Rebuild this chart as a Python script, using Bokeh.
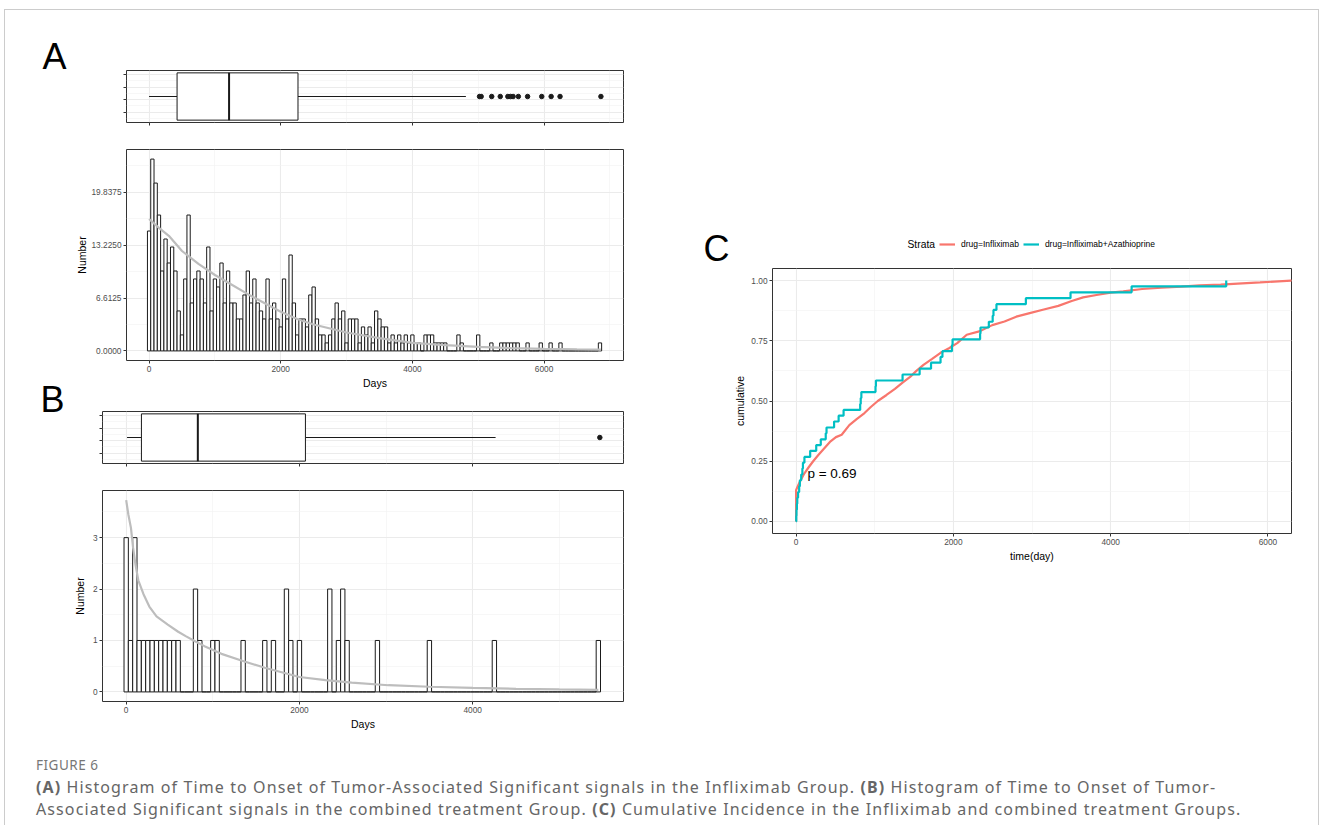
from bokeh.plotting import figure
from bokeh.models import (Range1d, FixedTicker, NumeralTickFormatter, Label, Legend,
                          LegendItem, Div, Spacer)
from bokeh.layouts import column, row
from bokeh.embed import file_html
from bokeh.resources import INLINE
from bokeh.core.properties import value

FONT = "Liberation Sans"

# ---------------- data ----------------
# Panel A (Infliximab group): histogram counts, 50-day bins centred at 0, 50, 100, ...
A_BIN_WIDTH = 50
A_COUNTS = [15, 24, 21, 17, 10, 14, 11, 13, 10, 5,
            2, 9, 17, 6, 9, 10, 9, 6, 13, 5,
            9, 8, 11, 6, 10, 6, 6, 4, 4, 7,
            10, 6, 9, 6, 5, 4, 9, 4, 6, 4,
            3, 9, 4, 12, 6, 2, 4, 4, 3, 7,
            8, 4, 2, 2, 1, 2, 4, 6, 4, 5,
            1, 4, 4, 4, 1, 3, 2, 3, 1, 5,
            4, 3, 3, 1, 2, 1, 2, 1, 2, 1,
            2, 1, 1, 0, 2, 2, 2, 1, 1, 1,
            1, 0, 0, 0, 2, 1, 0, 0, 0, 0,
            2, 0, 0, 0, 1, 0, 0, 1, 1, 1,
            1, 1, 1, 0, 0, 1, 0, 0, 0, 1,
            0, 0, 1, 0, 0, 1, 0, 0, 0, 0,
            0, 0, 0, 0, 0, 0, 0, 1]
A_BOX_STATS = [0, 425, 1215, 2262, 4813]          # lower whisker, Q1, median, Q3, upper whisker
A_OUTLIERS = [5020, 5045, 5205, 5335, 5450, 5490, 5530, 5610, 5750, 5965, 6108, 6243, 6864]
A_CURVE_DAYS = [0, 150, 300, 500, 750, 1000, 1250, 1500, 1750, 2000, 2250, 2500, 2750,
                3000, 3500, 4000, 4500, 5000, 5500, 6000, 6500, 6864]
A_CURVE_VALUES = [16.5, 15.4, 14.4, 12.5, 10.9, 9.5, 8.3, 7.1, 6.0, 4.9, 4.0, 3.3, 2.8,
                  2.3, 1.6, 1.0, 0.72, 0.5, 0.35, 0.25, 0.18, 0.15]
A_X_TICKS = [0, 2000, 4000, 6000]
A_X_MINOR = [1000, 3000, 5000, 7000]
A_Y_TICKS = [0, 6.6125, 13.225, 19.8375]
A_Y_MINOR = [3.30625, 9.91875, 16.53125, 23.14375]

# Panel B (combined treatment group): non-empty 50-day bins
B_BIN_WIDTH = 50
B_BIN_CENTERS = [0, 50, 100, 150, 200, 250, 300, 350, 400, 450, 500, 550, 600, 800, 850,
                 1000, 1050, 1350, 1600, 1700, 1850, 1900, 2000, 2350, 2450, 2500, 2550,
                 2900, 3500, 4250, 5450]
B_COUNTS = [3, 1, 3, 1, 1, 1, 1, 1, 1, 1, 1, 1, 1, 2, 1,
            1, 1, 1, 1, 1, 2, 1, 1, 2, 1, 2, 1,
            1, 1, 1, 1]
B_BOX_STATS = [10, 176, 827, 2069, 4264]
B_OUTLIERS = [5467]
B_CURVE_DAYS = [0, 25, 55, 80, 106, 140, 200, 267, 350, 480, 600, 692, 800, 904, 1100,
                1329, 1600, 2000, 2300, 2603, 3027, 3500, 4000, 4500, 5000, 5450]
B_CURVE_VALUES = [3.73, 3.45, 3.19, 2.8, 2.49, 2.17, 1.9, 1.66, 1.47, 1.31, 1.17, 1.08, 0.98,
                  0.89, 0.74, 0.61, 0.47, 0.29, 0.23, 0.18, 0.13, 0.1, 0.077, 0.06, 0.048, 0.04]
B_X_TICKS = [0, 2000, 4000]
B_X_MINOR = [1000, 3000, 5000]
B_Y_TICKS = [0, 1, 2, 3]
B_Y_MINOR = [0.5, 1.5, 2.5, 3.5]

BOX_Y_TICKS = [-0.25, -0.05, 0.15, 0.35]
BOX_Y_MINOR = [-0.35, -0.15, 0.05, 0.25]

# Panel C: cumulative incidence
INF_DAYS = [0, 0, 20, 48, 106, 160, 217, 280, 348, 430, 507, 580, 677, 770, 870, 950, 1039,
            1150, 1257, 1350, 1450, 1530, 1620, 1730, 1837, 1950, 2049, 2170, 2340, 2495,
            2650, 2800, 2971, 3150, 3335, 3505, 3650, 3820, 4000, 4160, 4400, 4646, 4900,
            5131, 5400, 5617, 5900, 6296, 6864]
INF_CUM = [0, 0.13, 0.145, 0.165, 0.20, 0.225, 0.25, 0.275, 0.30, 0.33, 0.35, 0.36, 0.40,
           0.425, 0.45, 0.475, 0.50, 0.525, 0.55, 0.575, 0.60, 0.625, 0.65, 0.675, 0.70,
           0.72, 0.74, 0.775, 0.79, 0.815, 0.83, 0.85, 0.865, 0.88, 0.895, 0.915, 0.93,
           0.94, 0.95, 0.955, 0.965, 0.97, 0.975, 0.98, 0.983, 0.987, 0.992, 1.0, 1.0]
AZA_DAYS = [0, 2, 5, 10, 15, 25, 39, 48, 65, 80, 87, 106, 179, 256, 314, 377, 387, 483, 541,
            604, 815, 822, 830, 1010, 1015, 1354, 1571, 1716, 1837, 1861, 1982, 1990, 2340,
            2345, 2451, 2500, 2510, 2548, 2922, 3490, 4267, 5470]
AZA_CUM = [0, 0.024, 0.049, 0.073, 0.098, 0.122, 0.146, 0.171, 0.195, 0.220, 0.244, 0.268,
           0.293, 0.317, 0.341, 0.366, 0.390, 0.415, 0.439, 0.463, 0.488, 0.512, 0.537,
           0.561, 0.585, 0.610, 0.634, 0.659, 0.683, 0.707, 0.732, 0.756, 0.780, 0.805,
           0.829, 0.854, 0.878, 0.902, 0.927, 0.951, 0.976, 1.0]
C_X_TICKS = [0, 2000, 4000, 6000]
C_X_MINOR = [1000, 3000, 5000]
C_Y_TICKS = [0, 0.25, 0.5, 0.75, 1.0]
C_Y_MINOR = [0.125, 0.375, 0.625, 0.875]
P_VALUE_TEXT = "p = 0.69"
STRATA_TITLE = "Strata"
STRATA = ["drug=Infliximab", "drug=Infliximab+Azathioprine"]
STRATA_COLORS = ["#F8766D", "#00BFC4"]

PANEL_LETTERS = ["A", "B", "C"]
CAPTION_HEAD = "FIGURE 6"
CAPTION_1 = ("<b>(A)</b> Histogram of Time to Onset of Tumor-Associated Significant signals in the "
             "Infliximab Group. <b>(B)</b> Histogram of Time to Onset of Tumor-")
CAPTION_2 = ("Associated Significant signals in the combined treatment Group. <b>(C)</b> Cumulative "
             "Incidence in the Infliximab and combined treatment Groups.")


def padded(lo, hi, f=0.05):
    d = (hi - lo) * f
    return (lo - d, hi + d)


def base_fig(w, h, xr, yr, bl, br, bt, bb, xt, xm, yt, ym):
    p = figure(width=w, height=h, x_range=Range1d(*xr), y_range=Range1d(*yr),
               output_backend="svg", toolbar_location=None, margin=0,
               min_border_left=bl, min_border_right=br, min_border_top=bt, min_border_bottom=bb)
    p.frame_align = False
    p.background_fill_color = "white"
    p.border_fill_color = "white"
    p.outline_line_color = "#333333"
    p.outline_line_width = 1
    xtk = FixedTicker(ticks=xt, minor_ticks=xm)
    ytk = FixedTicker(ticks=yt, minor_ticks=ym)
    p.xaxis.ticker = xtk
    p.yaxis.ticker = ytk
    p.xgrid.ticker = xtk
    p.ygrid.ticker = ytk
    p.grid.grid_line_color = "#EBEBEB"
    p.grid.grid_line_width = 1.1
    p.grid.minor_grid_line_color = "#F2F2F2"
    p.grid.minor_grid_line_width = 0.6
    p.axis.axis_line_color = None
    p.axis.major_tick_line_color = "#333333"
    p.axis.major_tick_out = 3
    p.axis.major_tick_in = 0
    p.axis.minor_tick_out = 0
    p.axis.minor_tick_in = 0
    p.axis.major_label_text_font = FONT
    p.axis.major_label_text_font_size = "8.3px"
    p.axis.major_label_text_color = "#4D4D4D"
    p.axis.major_label_standoff = 2
    p.axis.axis_label_text_font = FONT
    p.axis.axis_label_text_font_size = "10.5px"
    p.axis.axis_label_text_font_style = "normal"
    p.axis.axis_label_text_color = "black"
    p.axis.axis_label_standoff = 2
    return p


def blank_fig(w, h):
    """A figure whose frame is its whole canvas, measured in pixels from the top-left."""
    p = figure(width=w, height=h, x_range=Range1d(0, w), y_range=Range1d(h, 0),
               output_backend="svg", toolbar_location=None, margin=0,
               x_axis_type=None, y_axis_type=None,
               min_border_left=0, min_border_right=0, min_border_top=0, min_border_bottom=0)
    p.frame_align = False
    p.outline_line_color = None
    p.background_fill_color = "white"
    p.border_fill_color = "white"
    p.xgrid.visible = False
    p.ygrid.visible = False
    return p


def boxplot(w, h, xr, bl, br, bt, bb, xt, xm, stats, outliers):
    p = base_fig(w, h, xr, (-0.4125, 0.4125), bl, br, bt, bb, xt, xm, BOX_Y_TICKS, BOX_Y_MINOR)
    p.axis.major_label_text_color = None
    p.axis.major_label_standoff = 0
    lo, q1, med, q3, hi = stats
    p.segment(x0=[lo, q3], y0=[0, 0], x1=[q1, hi], y1=[0, 0], line_color="#1a1a1a", line_width=1)
    p.quad(left=[q1], right=[q3], bottom=[-0.375], top=[0.375], fill_color="white",
           line_color="#1a1a1a", line_width=1)
    p.segment(x0=[med], y0=[-0.375], x1=[med], y1=[0.375], line_color="#1a1a1a", line_width=2)
    p.scatter(x=outliers, y=[0] * len(outliers), size=4.5, fill_color="#1a1a1a",
              line_color="#1a1a1a")
    return p


# ---------------- panel letters A / B (left strip) ----------------
letters_left = blank_fig(62, 722)
letters_left.text(x=[34, 32], y=[46, 388.5], text=PANEL_LETTERS[:2], text_font=value(FONT),
                  text_font_size=value("36px"), text_baseline=value("middle"),
                  text_align=value("left"), text_color="black")

# ---------------- panel A ----------------
a_xr = padded(0, max(A_OUTLIERS))
figA_box = boxplot(578, 126, a_xr, 56, 25, 60, 14, A_X_TICKS, A_X_MINOR, A_BOX_STATS, A_OUTLIERS)

figA_hist = base_fig(578, 255, a_xr, padded(0, max(A_COUNTS)), 56, 25, 13, 29,
                     A_X_TICKS, A_X_MINOR, A_Y_TICKS, A_Y_MINOR)
a_centers = [i * A_BIN_WIDTH for i in range(len(A_COUNTS))]
figA_hist.quad(left=[c - A_BIN_WIDTH / 2 for c in a_centers],
               right=[c + A_BIN_WIDTH / 2 for c in a_centers],
               bottom=[0] * len(A_COUNTS), top=A_COUNTS,
               fill_color="white", line_color="#1a1a1a", line_width=1)
figA_hist.line(A_CURVE_DAYS, A_CURVE_VALUES, line_color="#BDBDBD", line_width=2.2)
figA_hist.yaxis.formatter = NumeralTickFormatter(format="0.0000")
figA_hist.xaxis.axis_label = "Days"
figA_hist.yaxis.axis_label = "Number"
figA_hist.yaxis.axis_label_standoff = 1

# ---------------- panel B ----------------
b_xr = padded(0, max(B_OUTLIERS))
figB_box = boxplot(578, 85, b_xr, 32, 25, 20, 13, B_X_TICKS, B_X_MINOR, B_BOX_STATS, B_OUTLIERS)

n_b = int(max(B_BIN_CENTERS) / B_BIN_WIDTH) + 1
b_full = [0] * n_b
for c, v in zip(B_BIN_CENTERS, B_COUNTS):
    b_full[int(round(c / B_BIN_WIDTH))] = v
b_centers = [i * B_BIN_WIDTH for i in range(n_b)]

figB_hist = base_fig(578, 256, b_xr, padded(0, max(B_CURVE_VALUES)), 32, 25, 14, 30,
                     B_X_TICKS, B_X_MINOR, B_Y_TICKS, B_Y_MINOR)
figB_hist.quad(left=[c - B_BIN_WIDTH / 2 for c in b_centers],
               right=[c + B_BIN_WIDTH / 2 for c in b_centers],
               bottom=[0] * n_b, top=b_full,
               fill_color="white", line_color="#1a1a1a", line_width=1)
figB_hist.line(B_CURVE_DAYS, B_CURVE_VALUES, line_color="#BDBDBD", line_width=2.2)
figB_hist.xaxis.axis_label = "Days"
figB_hist.yaxis.axis_label = "Number"
figB_hist.yaxis.axis_label_standoff = 4

# ---------------- panel C ----------------
letter_c = blank_fig(83, 52)
letter_c.text(x=[55], y=[22.5], text=PANEL_LETTERS[2:], text_font=value(FONT),
              text_font_size=value("36px"), text_baseline=value("middle"),
              text_align=value("left"), text_color="black")

legend_fig = blank_fig(587, 34)
legend_fig.add_layout(Label(x=176, y=19, text=STRATA_TITLE, text_font=FONT,
                            text_font_size="10.3px", text_baseline="middle",
                            text_color="black"))
# legend keys: one-point (invisible, off-frame) lines that carry the series colours
key_renderers = [legend_fig.line(x=[-50], y=[-50], line_color=col, line_width=2.2)
                 for col in STRATA_COLORS]
legend = Legend(items=[LegendItem(label=lab, renderers=[r])
                       for lab, r in zip(STRATA, key_renderers)],
                orientation="horizontal", location=(208, 8),
                glyph_width=16, glyph_height=14, label_height=14, label_width=10,
                label_standoff=6, spacing=4, padding=0, margin=0,
                border_line_color=None, background_fill_alpha=0,
                label_text_font=FONT, label_text_font_size="8.5px", label_text_color="black")
legend_fig.add_layout(legend, "center")

figC = base_fig(587, 307, (-300, 6300), (-0.05, 1.05), 37, 27, 9, 33,
                C_X_TICKS, C_X_MINOR, C_Y_TICKS, C_Y_MINOR)
figC.yaxis.formatter = NumeralTickFormatter(format="0.00")
figC.xaxis.axis_label = "time(day)"
figC.yaxis.axis_label = "cumulative"
figC.line(INF_DAYS, INF_CUM, line_color=STRATA_COLORS[0], line_width=2.2)
figC.step(AZA_DAYS, AZA_CUM, mode="after", line_color=STRATA_COLORS[1], line_width=2.2)
figC.add_layout(Label(x=144, y=0.197, text=P_VALUE_TEXT, text_font=FONT,
                      text_font_size="13.5px", text_baseline="middle", text_color="black"))

# ---------------- layout ----------------
plots_left = column(figA_box, figA_hist, figB_box, figB_hist, spacing=0)
left = row(letters_left, plots_left, spacing=0)
right = column(Spacer(width=670, height=215, margin=0),
               row(letter_c, column(legend_fig, figC, spacing=0), spacing=0),
               spacing=0)
content = row(Spacer(width=3, height=10, margin=0), left, right, spacing=0)

caption_html = (
    '<div style="font-family:\'Noto Sans\',sans-serif; padding-left:31px; padding-top:24px; '
    'white-space:nowrap;">'
    '<div style="font-size:13.5px; line-height:18px; color:#777777; letter-spacing:0.5px;">'
    + CAPTION_HEAD + '</div>'
    '<div style="font-size:16px; line-height:22px; color:#666666; margin-top:2px; '
    'letter-spacing:1.1px;">'
    + CAPTION_1 + '<br>' + CAPTION_2 + '</div></div>'
)
caption = Div(text=caption_html, width=1313, height=94, margin=0)

box = column(content, caption, spacing=0,
             styles={"box-shadow": "-1px -1px 0 0 #cccccc, 1px -1px 0 0 #cccccc"})
root = column(Spacer(width=10, height=10, margin=0),
              row(Spacer(width=5, height=10, margin=0), box, spacing=0),
              spacing=0)

open("out.html", "w").write(file_html(root, INLINE))
